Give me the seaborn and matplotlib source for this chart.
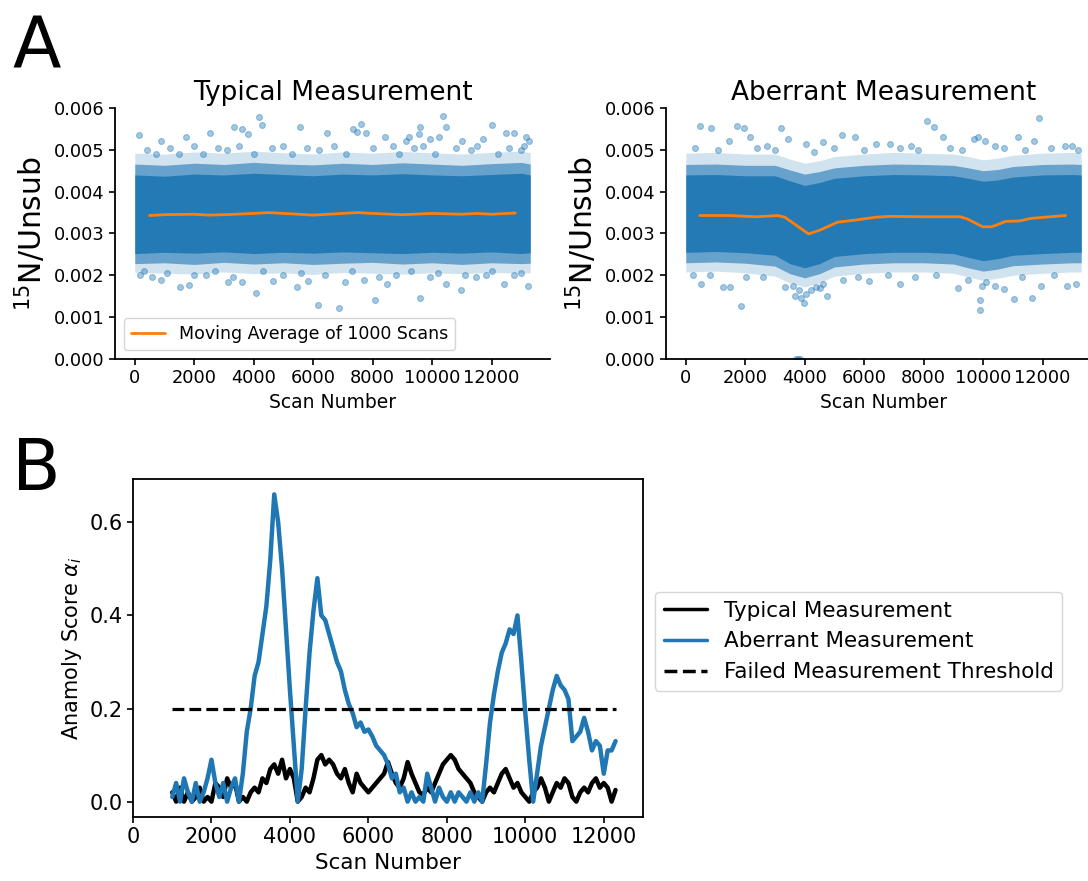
import numpy as np
import pandas as pd
import matplotlib
matplotlib.use("Agg")
import matplotlib.pyplot as plt
from matplotlib.ticker import FormatStrFormatter
import seaborn as sns

sns.set_style("ticks")
plt.rcParams["font.family"] = ["DejaVu Sans"]
plt.rcParams["mathtext.fontset"] = "dejavusans"
plt.rcParams.update({"text.color": "black", "axes.labelcolor": "black",
                     "xtick.color": "black", "ytick.color": "black",
                     "axes.edgecolor": "black"})

BLUE = "#1f77b4"
ORANGE = "#ff7f0e"

# ---------------- Panel A : Typical measurement ----------------
typ_band_scan = [0, 1000, 2000, 3000, 4000, 5000, 6000, 7000, 8000, 9000, 10000, 11000, 12000, 13000, 13300]
typ_core_lo = [0.00252, 0.00255, 0.00253, 0.00256, 0.00252, 0.00255, 0.00253, 0.00256, 0.00254, 0.00252, 0.00255, 0.00253, 0.00256, 0.00252, 0.00254]
typ_core_hi = [0.00440, 0.00437, 0.00442, 0.00440, 0.00444, 0.00441, 0.00438, 0.00442, 0.00440, 0.00443, 0.00440, 0.00438, 0.00441, 0.00444, 0.00440]
typ_mid_lo = [0.00228, 0.00230, 0.00226, 0.00231, 0.00227, 0.00230, 0.00226, 0.00229, 0.00231, 0.00227, 0.00230, 0.00226, 0.00230, 0.00228, 0.00229]
typ_mid_hi = [0.00466, 0.00463, 0.00468, 0.00465, 0.00470, 0.00466, 0.00464, 0.00468, 0.00465, 0.00469, 0.00466, 0.00463, 0.00467, 0.00470, 0.00466]
typ_out_lo = [0.00207, 0.00205, 0.00203, 0.00208, 0.00204, 0.00206, 0.00202, 0.00207, 0.00205, 0.00203, 0.00206, 0.00204, 0.00207, 0.00205, 0.00206]
typ_out_hi = [0.00492, 0.00490, 0.00495, 0.00492, 0.00497, 0.00493, 0.00490, 0.00495, 0.00492, 0.00496, 0.00493, 0.00490, 0.00494, 0.00497, 0.00493]

typ_pts_scan = [150, 4180, 10350, 5550, 7620, 10470, 12030, 12760, 12470, 3330, 3590, 4290, 3820, 6470,
                7350, 7490, 7780, 9550, 9210, 9920, 9590, 10240, 13170, 1710, 880, 2530, 8410, 9120,
                11000, 11700, 13100,
                400, 700, 1200, 1500, 2000, 2300, 2800, 3100, 3500, 4000, 4600, 5000, 5300, 5800, 6200,
                6700, 7100, 8000, 8700, 8900, 9400, 9700, 10100, 10800, 11300, 11500, 12200, 12600, 13000, 13250,
                1510, 1820, 4090, 6150, 6860, 8090, 9590, 10960, 13240, 5470, 12410, 8470, 590, 880,
                3120, 4650, 7060, 9940, 11470, 12760, 180, 2410, 3590, 5820, 7710, 10470, 11820,
                300, 1100, 2000, 2700, 3300, 4300, 5000, 5600, 6400, 7300, 8200, 8800, 9300, 10200, 11100, 12000, 13000]
typ_pts_val = [0.00535, 0.00579, 0.00582, 0.00554, 0.00561, 0.00554, 0.00560, 0.00540, 0.00540, 0.00554, 0.00550, 0.00560, 0.00538, 0.00540,
               0.00550, 0.00542, 0.00540, 0.00538, 0.00530, 0.00526, 0.00554, 0.00530, 0.00530, 0.00530, 0.00520, 0.00540, 0.00530, 0.00520,
               0.00520, 0.00526, 0.00510,
               0.00500, 0.00490, 0.00505, 0.00490, 0.00510, 0.00490, 0.00505, 0.00500, 0.00510, 0.00490, 0.00505, 0.00510, 0.00490, 0.00505, 0.00500,
               0.00510, 0.00490, 0.00505, 0.00510, 0.00490, 0.00505, 0.00510, 0.00490, 0.00505, 0.00500, 0.00510, 0.00490, 0.00505, 0.00500, 0.00520,
               0.00173, 0.00178, 0.00158, 0.00129, 0.00122, 0.00141, 0.00146, 0.00165, 0.00175, 0.00171, 0.00180, 0.00180, 0.00195, 0.00189,
               0.00183, 0.00187, 0.00183, 0.00195, 0.00195, 0.00200, 0.00200, 0.00200, 0.00183, 0.00187, 0.00190, 0.00180, 0.00200,
               0.00210, 0.00205, 0.00200, 0.00210, 0.00195, 0.00210, 0.00200, 0.00205, 0.00200, 0.00210, 0.00195, 0.00200, 0.00210, 0.00205, 0.00200, 0.00210, 0.00205]

typ_ma_scan = [500, 1000, 2000, 2500, 3000, 4000, 4500, 5000, 6000, 7000, 7500, 8000, 9000, 10000, 11000, 11500, 12000, 12800]
typ_ma_val = [0.00343, 0.00345, 0.00346, 0.00344, 0.00345, 0.00348, 0.00350, 0.00348, 0.00344, 0.00348, 0.00350, 0.00348, 0.00345, 0.00348, 0.00346, 0.00348, 0.00346, 0.00349]

# ---------------- Panel A : Aberrant measurement ----------------
abe_band_scan = [0, 1000, 2000, 3000, 3500, 4000, 4500, 5000, 6000, 7000, 8000, 9000, 9500, 10000, 10500, 11000, 12000, 13000, 13300]
abe_core_lo = [0.00255, 0.00257, 0.00254, 0.00248, 0.00228, 0.00218, 0.00228, 0.00245, 0.00252, 0.00255, 0.00255, 0.00252, 0.00243, 0.00235, 0.00240, 0.00248, 0.00252, 0.00255, 0.00255]
abe_core_hi = [0.00440, 0.00441, 0.00438, 0.00438, 0.00426, 0.00415, 0.00422, 0.00432, 0.00438, 0.00441, 0.00440, 0.00438, 0.00432, 0.00425, 0.00428, 0.00435, 0.00440, 0.00441, 0.00440]
abe_mid_lo = [0.00230, 0.00232, 0.00229, 0.00222, 0.00204, 0.00194, 0.00204, 0.00220, 0.00227, 0.00230, 0.00230, 0.00227, 0.00218, 0.00210, 0.00215, 0.00223, 0.00227, 0.00230, 0.00230]
abe_mid_hi = [0.00465, 0.00466, 0.00463, 0.00463, 0.00452, 0.00442, 0.00448, 0.00457, 0.00463, 0.00466, 0.00465, 0.00463, 0.00457, 0.00450, 0.00453, 0.00460, 0.00465, 0.00466, 0.00465]
abe_out_lo = [0.00208, 0.00210, 0.00206, 0.00198, 0.00182, 0.00172, 0.00182, 0.00198, 0.00205, 0.00208, 0.00208, 0.00205, 0.00196, 0.00188, 0.00193, 0.00200, 0.00205, 0.00208, 0.00208]
abe_out_hi = [0.00492, 0.00494, 0.00490, 0.00490, 0.00478, 0.00468, 0.00474, 0.00484, 0.00490, 0.00494, 0.00492, 0.00490, 0.00484, 0.00476, 0.00480, 0.00487, 0.00492, 0.00494, 0.00492]

abe_pts_scan = [470, 850, 1730, 1970, 3190, 3450, 5270, 5690, 8110, 8340, 8640, 9700, 9820, 11170, 11880, 11700,
                13000, 12770, 1440, 2150, 2740, 4040, 4630, 6400, 6870, 7580, 10050, 10410,
                300, 1100, 2400, 3000, 4300, 5000, 6000, 7200, 7800, 8900, 9300, 10700, 11400, 12300, 13200,
                1850, 240, 500, 1260, 1500, 2030, 3330, 3680, 3860, 3980, 4040, 4390, 4740, 4630, 6160,
                7220, 9170, 9880, 9910, 9960, 10410, 10700, 11050, 11640, 11940, 12830, 13120,
                800, 2600, 3600, 3800, 4200, 4500, 5300, 5800, 6800, 7700, 8400, 9500, 10100, 11300, 12400,
                3720, 3780, 3830]
abe_pts_val = [0.00558, 0.00551, 0.00557, 0.00551, 0.00551, 0.00527, 0.00535, 0.00530, 0.00570, 0.00555, 0.00530, 0.00527, 0.00530, 0.00530, 0.00576, 0.00520,
               0.00510, 0.00510, 0.00520, 0.00530, 0.00510, 0.00514, 0.00518, 0.00514, 0.00514, 0.00510, 0.00520, 0.00510,
               0.00505, 0.00500, 0.00505, 0.00500, 0.00495, 0.00505, 0.00500, 0.00505, 0.00500, 0.00505, 0.00500, 0.00505, 0.00500, 0.00505, 0.00500,
               0.00126, 0.00200, 0.00180, 0.00173, 0.00171, 0.00195, 0.00171, 0.00151, 0.00147, 0.00135, 0.00155, 0.00171, 0.00151, 0.00179, 0.00187,
               0.00179, 0.00170, 0.00142, 0.00117, 0.00175, 0.00175, 0.00167, 0.00143, 0.00145, 0.00175, 0.00175, 0.00180,
               0.00200, 0.00195, 0.00175, 0.00165, 0.00165, 0.00170, 0.00190, 0.00195, 0.00200, 0.00195, 0.00200, 0.00190, 0.00185, 0.00195, 0.00200,
               0.00000, 0.00000, 0.00000]

abe_ma_scan = [470, 1440, 2380, 3090, 3330, 4130, 4510, 5100, 5690, 6400, 6870, 8050, 9230, 9460, 9990, 10290, 10760, 11230, 11590, 12070, 12770]
abe_ma_val = [0.00343, 0.00343, 0.00340, 0.00343, 0.00339, 0.00299, 0.00308, 0.00327, 0.00332, 0.00339, 0.00341, 0.00340, 0.00340, 0.00335, 0.00316, 0.00316, 0.00329, 0.00330, 0.00336, 0.00339, 0.00343]

# ---------------- Panel B : anomaly scores ----------------
score_scan = [1000, 1100, 1200, 1300, 1400, 1500, 1600, 1700, 1800, 1900,
              2000, 2100, 2200, 2300, 2400, 2500, 2600, 2700, 2800, 2900,
              3000, 3100, 3200, 3300, 3400, 3500, 3600, 3700, 3800, 3900,
              4000, 4100, 4200, 4300, 4400, 4500, 4600, 4700, 4800, 4900,
              5000, 5100, 5200, 5300, 5400, 5500, 5600, 5700, 5800, 5900,
              6000, 6100, 6200, 6300, 6400, 6500, 6600, 6700, 6800, 6900,
              7000, 7100, 7200, 7300, 7400, 7500, 7600, 7700, 7800, 7900,
              8000, 8100, 8200, 8300, 8400, 8500, 8600, 8700, 8800, 8900,
              9000, 9100, 9200, 9300, 9400, 9500, 9600, 9700, 9800, 9900,
              10000, 10100, 10200, 10300, 10400, 10500, 10600, 10700, 10800, 10900,
              11000, 11100, 11200, 11300, 11400, 11500, 11600, 11700, 11800, 11900,
              12000, 12100, 12200, 12300]
score_typical = [0.02, 0.00, 0.03, 0.00, 0.02, 0.00, 0.01, 0.03, 0.00, 0.01,
                 0.00, 0.04, 0.03, 0.01, 0.05, 0.03, 0.04, 0.00, 0.01, 0.00,
                 0.02, 0.03, 0.02, 0.05, 0.04, 0.07, 0.08, 0.06, 0.09, 0.05,
                 0.07, 0.05, 0.00, 0.01, 0.03, 0.02, 0.05, 0.09, 0.10, 0.08,
                 0.09, 0.08, 0.06, 0.05, 0.07, 0.04, 0.02, 0.06, 0.04, 0.03,
                 0.02, 0.03, 0.04, 0.05, 0.06, 0.085, 0.06, 0.04, 0.03, 0.05,
                 0.085, 0.06, 0.04, 0.02, 0.015, 0.03, 0.02, 0.04, 0.06, 0.08,
                 0.09, 0.10, 0.09, 0.07, 0.06, 0.05, 0.04, 0.02, 0.01, 0.00,
                 0.02, 0.03, 0.02, 0.04, 0.06, 0.07, 0.05, 0.03, 0.04, 0.02,
                 0.01, 0.00, 0.02, 0.03, 0.05, 0.03, 0.00, 0.02, 0.04, 0.03,
                 0.05, 0.04, 0.01, 0.00, 0.02, 0.03, 0.02, 0.04, 0.05, 0.03,
                 0.04, 0.03, 0.00, 0.025]
score_aberrant = [0.01, 0.04, 0.00, 0.05, 0.02, 0.00, 0.04, 0.00, 0.02, 0.05,
                  0.09, 0.04, 0.01, 0.04, 0.00, 0.03, 0.05, 0.00, 0.06, 0.15,
                  0.20, 0.27, 0.30, 0.36, 0.42, 0.52, 0.66, 0.60, 0.50, 0.37,
                  0.24, 0.12, 0.00, 0.07, 0.20, 0.32, 0.41, 0.48, 0.40, 0.39,
                  0.36, 0.33, 0.30, 0.28, 0.24, 0.21, 0.19, 0.16, 0.17, 0.15,
                  0.155, 0.14, 0.12, 0.11, 0.10, 0.08, 0.05, 0.06, 0.02, 0.03,
                  0.00, 0.02, 0.00, 0.01, 0.00, 0.06, 0.03, 0.00, 0.03, 0.01,
                  0.00, 0.02, 0.00, 0.02, 0.01, 0.00, 0.02, 0.00, 0.02, 0.00,
                  0.08, 0.17, 0.23, 0.28, 0.32, 0.34, 0.37, 0.36, 0.40, 0.30,
                  0.19, 0.09, 0.00, 0.06, 0.12, 0.16, 0.20, 0.24, 0.27, 0.25,
                  0.24, 0.22, 0.13, 0.14, 0.15, 0.18, 0.15, 0.11, 0.13, 0.12,
                  0.06, 0.11, 0.11, 0.13]
threshold_scan = [1000, 12300]
threshold_val = [0.2, 0.2]

# ---------------- Figure ----------------
W, H = 1088, 881
fig = plt.figure(figsize=(W / 100, H / 100), dpi=100)

def fpos(l, t, r, b):
    return [l / W, 1 - b / H, (r - l) / W, (b - t) / H]

ax1 = fig.add_axes(fpos(115, 108, 550, 359))
ax2 = fig.add_axes(fpos(666, 108, 1101, 359))
ax3 = fig.add_axes(fpos(133, 479, 643, 817))


def scatter_panel(ax, bscan, olo, ohi, mlo, mhi, clo, chi, pscan, pval, mscan, mval, title, legend):
    ax.fill_between(bscan, olo, ohi, color=BLUE, alpha=0.2, lw=0)
    ax.fill_between(bscan, mlo, mhi, color=BLUE, alpha=0.6, lw=0)
    ax.fill_between(bscan, clo, chi, color=BLUE, alpha=0.92, lw=0)
    sns.scatterplot(x=pscan, y=pval, ax=ax, color=BLUE, alpha=0.4, s=18,
                    edgecolor=BLUE, linewidth=0.8, legend=False)
    sns.lineplot(x=mscan, y=mval, ax=ax, color=ORANGE, lw=2,
                 label="Moving Average of 1000 Scans" if legend else None,
                 legend=legend, estimator=None, sort=False)
    ax.set_xlim(-665, 13965)
    ax.set_ylim(0, 0.006)
    ax.set_yticks([0, 0.001, 0.002, 0.003, 0.004, 0.005, 0.006])
    ax.set_xticks([0, 2000, 4000, 6000, 8000, 10000, 12000])
    ax.yaxis.set_major_formatter(FormatStrFormatter("%.3f"))
    ax.tick_params(length=4, width=1.2, labelsize=12.8)
    ax.set_title(title, fontsize=19)
    ax.set_ylabel("$^{15}$N/Unsub", fontsize=21.5)
    ax.set_xlabel("Scan Number", fontsize=13.5)
    sns.despine(ax=ax)
    for s in ["left", "bottom"]:
        ax.spines[s].set_linewidth(1.3)
    if legend:
        ax.legend(loc="lower left", fontsize=12.5)


scatter_panel(ax1, typ_band_scan, typ_out_lo, typ_out_hi, typ_mid_lo, typ_mid_hi, typ_core_lo, typ_core_hi,
              typ_pts_scan, typ_pts_val, typ_ma_scan, typ_ma_val, "Typical Measurement", True)
scatter_panel(ax2, abe_band_scan, abe_out_lo, abe_out_hi, abe_mid_lo, abe_mid_hi, abe_core_lo, abe_core_hi,
              abe_pts_scan, abe_pts_val, abe_ma_scan, abe_ma_val, "Aberrant Measurement", False)

# Panel B
sns.lineplot(x=score_scan, y=score_typical, ax=ax3, color="black", lw=3.2,
             label="Typical Measurement", estimator=None, sort=False)
sns.lineplot(x=score_scan, y=score_aberrant, ax=ax3, color=BLUE, lw=3.2,
             label="Aberrant Measurement", estimator=None, sort=False)
ax3.plot(threshold_scan, threshold_val, color="black", lw=2.3, ls="--",
         label="Failed Measurement Threshold")
ax3.set_xlim(0, 13000)
ax3.set_ylim(-0.033, 0.693)
ax3.set_xticks([0, 2000, 4000, 6000, 8000, 10000, 12000])
ax3.set_yticks([0.0, 0.2, 0.4, 0.6])
ax3.yaxis.set_major_formatter(FormatStrFormatter("%.1f"))
ax3.tick_params(labelsize=15, length=4, width=1.2)
ax3.set_xlabel("Scan Number", fontsize=15.5)
ax3.set_ylabel(r"Anamoly Score $\alpha_i$", fontsize=15)
for s in ax3.spines.values():
    s.set_linewidth(1.3)
leg = ax3.legend(loc="upper left", bbox_to_anchor=(655 / W, 1 - 592 / H), bbox_transform=fig.transFigure,
                 borderaxespad=0, fontsize=15.5)
for h in leg.get_lines():
    h.set_linewidth(2.5)

fig.text(12 / W, 1 - 67 / H, "A", fontsize=51, va="baseline", ha="left")
fig.text(12 / W, 1 - 490 / H, "B", fontsize=51, va="baseline", ha="left")

fig.savefig("out.png", dpi=100)
